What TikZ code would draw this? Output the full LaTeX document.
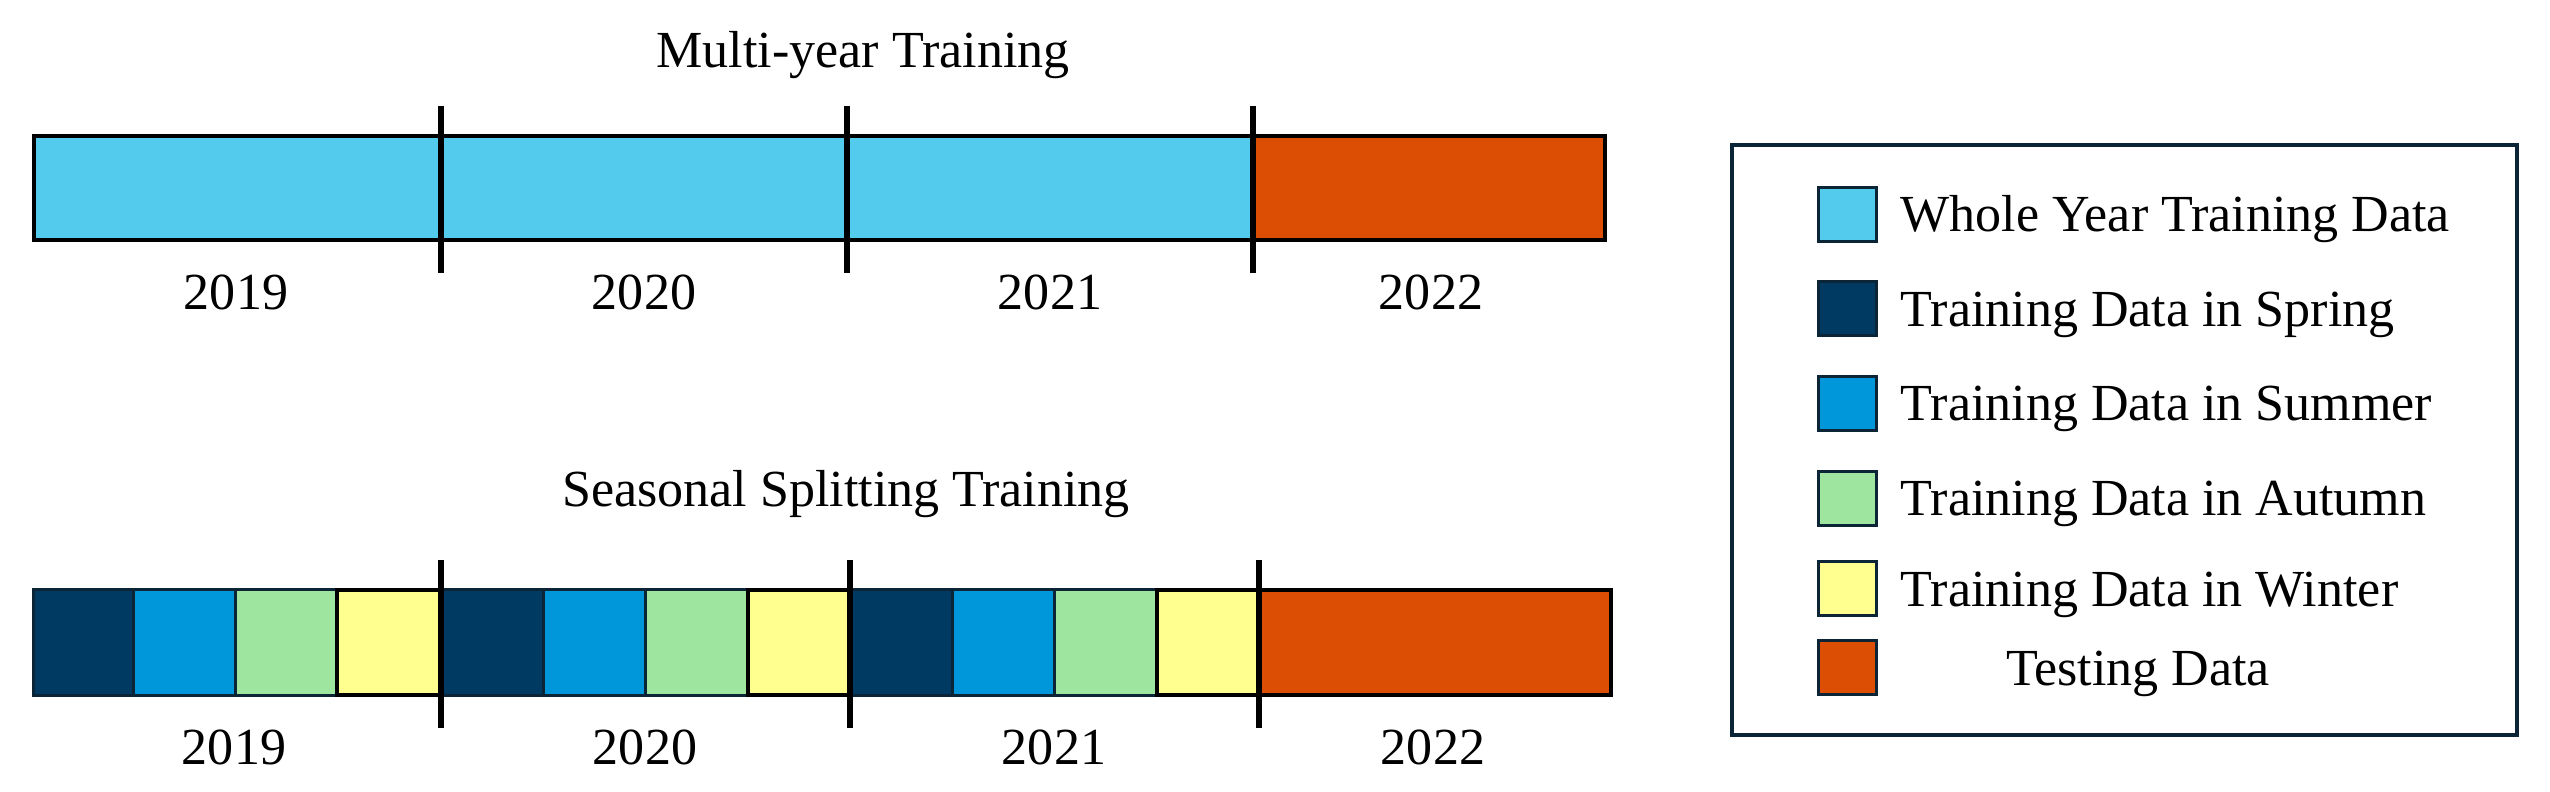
\documentclass[tikz,border=0pt]{standalone}
\usepackage{fontspec}
\setmainfont{Liberation Serif}
\definecolor{wholec}{HTML}{52CBEC}
\definecolor{testc}{HTML}{DB4E04}
\definecolor{springc}{HTML}{003A63}
\definecolor{summerc}{HTML}{0096DA}
\definecolor{autumnc}{HTML}{9EE6A0}
\definecolor{winterc}{HTML}{FFFF8F}
\definecolor{navyb}{HTML}{0C2536}
\begin{document}
\begin{tikzpicture}[x=0.01cm,y=-0.01cm,
  txt/.style={font=\fontsize{14.8}{17}\selectfont, inner sep=0pt, anchor=base},
  ltxt/.style={txt, anchor=base west},
  outline/.style={draw=black, line width=0.04cm},
  divider/.style={draw=black, line width=0.06cm},
  season/.style={draw=navyb, line width=0.03cm},
  legsq/.style={draw=navyb, line width=0.03cm}]
\useasboundingbox (0,0) rectangle (2550,792);

% ---------- Multi-year Training ----------
\node[txt] (t1) at (863,68) {Multi-year Training};
\path[fill=wholec] (34,136) rectangle (1253,240);
\path[fill=testc] (1253,136) rectangle (1605,240);
\draw[outline] (34,136) rectangle (1605,240);
\foreach \x in {441,847,1253} \draw[divider] (\x,106) -- (\x,273);
\node[txt] (a19) at (236,310) {2019};
\node[txt] (a20) at (644,310) {2020};
\node[txt] (a21) at (1050,310) {2021};
\node[txt] (a22) at (1431,310) {2022};

% ---------- Seasonal Splitting Training ----------
\node[txt] (t2) at (846,507) {Seasonal Splitting Training};
\foreach \a/\b/\c/\d/\e in {33.5/133/235/337/441, 441/543/645/748/850, 850/952/1054/1157/1259}{
  \draw[season, fill=springc] (\a,589.5) rectangle (\b,695.5);
  \draw[season, fill=summerc] (\b,589.5) rectangle (\c,695.5);
  \draw[season, fill=autumnc] (\c,589.5) rectangle (\d,695.5);
  \draw[outline, fill=winterc] (\d,590) rectangle (\e,695);
}
\draw[outline, fill=testc] (1259,590) rectangle (1611,695);
\foreach \x in {441,850,1259} \draw[divider] (\x,560) -- (\x,728);
\node[txt] (b19) at (234,765) {2019};
\node[txt] (b20) at (645,765) {2020};
\node[txt] (b21) at (1054,765) {2021};
\node[txt] (b22) at (1433,765) {2022};

% ---------- Legend ----------
\draw[draw=navyb, line width=0.045cm] (1732,145) rectangle (2517,735);
\foreach \c/\col/\name/\lab in {214.5/wholec/l1/Whole Year Training Data,
                               309/springc/l2/Training Data in Spring,
                               403.5/summerc/l3/Training Data in Summer,
                               498.5/autumnc/l4/Training Data in Autumn,
                               589/winterc/l5/Training Data in Winter}{
  \draw[legsq, fill=\col] (1818.5,\c-27) rectangle (1876.5,\c+27);
  \node[ltxt] (\name) at (1900,\c+17.5) {\lab};
}
\draw[legsq, fill=testc] (1818.5,641) rectangle (1876.5,695);
\node[txt] (l6) at (2138,685.5) {Testing Data};
\end{tikzpicture}
\end{document}
